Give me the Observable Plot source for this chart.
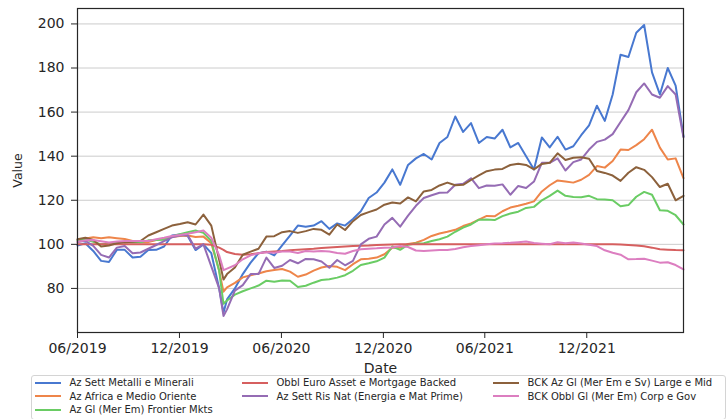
<!DOCTYPE html>
<html>
<head>
<meta charset="utf-8">
<script src="https://cdn.jsdelivr.net/npm/d3@7"></script>
<script src="https://cdn.jsdelivr.net/npm/@observablehq/plot@0.6"></script>
<style>
  html, body { margin: 0; padding: 0; background: #fff; }
  body { width: 726px; height: 419px; overflow: hidden; font-family: "DejaVu Sans", sans-serif; color: #262626; }
  #chart { height: 374px; }
  #legend { position: relative; box-sizing: border-box; width: 695px; height: 45px; margin-left: 31px; margin-top: 1px;
            border: 1px solid #d4d4d4; border-radius: 3px; display: grid;
            grid-template-columns: 207px 251px auto; grid-template-rows: repeat(3, 13.6px);
            padding: 0 0 0 3px; font-size: 10px; }
  .item { display: flex; align-items: center; white-space: nowrap; }
  .sw { width: 26px; height: 2px; margin-right: 8.5px; flex: none; }
</style>
</head>
<body>
<div id="chart"></div>
<div id="legend"></div>
<script>
// Series names (legend order) and colours
const seriesNames = [
  "Az Sett Metalli e Minerali",
  "Az Africa e Medio Oriente",
  "Az Gl (Mer Em) Frontier Mkts",
  "Obbl Euro Asset e Mortgage Backed",
  "Az Sett Ris Nat (Energia e Mat Prime)",
  "BCK Az Gl (Mer Em e Sv) Large e Mid",
  "BCK Obbl Gl (Mer Em) Corp e Gov"
];
const seriesColors = ["#4878d0", "#ee854a", "#6acc64", "#d65f5f", "#956cb4", "#8c613c", "#dc7ec0"];

// Sampling dates: regular grid plus one extra date at the Feb-2020 trough
const dates = d3.utcHour.range(new Date("2019-06-01T00:00Z"), new Date("2022-05-25T00:00Z"), 339);
dates.splice(19, 0, new Date("2020-02-18T00:00Z"));

// Values (one per date)
const metalli = [
  99.5, 100.5, 97, 92.5, 92, 97.5, 97.5, 94, 94.4, 97.4,
  97.5, 99, 104, 104.5, 103.8, 97.4, 100, 96, 80,
  69,
  75, 80, 86.5, 91.7, 96, 96.7, 95, 99.5, 104, 108.5, 108,
  108.5, 110.5, 107, 109.5, 108.5, 111.5, 115, 121, 123.5, 128,
  134, 127, 136, 139, 141, 138.5, 146, 148.7, 158, 151,
  155, 146, 148.7, 148, 152, 144, 146, 140, 134, 148.5,
  144, 148.8, 143, 144.5, 149.5, 154, 162.9, 156, 168, 186,
  185, 196, 199.5, 178, 168, 180, 172, 149
];
const africa = [
  102, 102.6, 103.2, 102.8, 103.2, 102.8, 102.4, 101.5, 100.9, 101,
  102, 102.7, 103.3, 103.8, 104, 103.3, 103.5, 100.5, 88,
  78.5,
  80.5, 82.5, 85, 86, 86.8, 87.8, 88.4, 88.8, 87.6, 85.3, 86.3,
  88.1, 89.5, 90.2, 89.8, 88.3, 91, 93.2, 93.5, 94, 95.5,
  98.5, 98.5, 100.2, 100.7, 102, 103.8, 104.9, 105.7, 106.6, 108.3,
  109.5, 111.2, 112.9, 112.7, 115, 116.7, 117.5, 118.4, 119.5, 124,
  126.8, 129, 128.5, 128, 129.3, 131.5, 135.5, 134.8, 137.8, 143,
  142.8, 145, 147.7, 152, 143.9, 138.5, 139, 130
];
const frontier = [
  101.7, 102.2, 101.2, 100, 100.3, 100.8, 100.9, 100.8, 100.9, 101.8,
  102, 102.1, 103.6, 104.6, 105.5, 106.3, 105.2, 101.5, 88,
  73,
  74.5, 77.2, 78.7, 80, 81.3, 83.5, 83, 83.6, 83.5, 80.6, 81.2,
  82.6, 83.8, 84.2, 84.9, 86, 88, 90.6, 91.4, 92.3, 94,
  99, 97.5, 99.8, 100.4, 100.5, 101.5, 102.3, 103.5, 105.7, 107.6,
  109, 111.2, 111.3, 111, 112.8, 114, 114.8, 116.5, 117, 120,
  122, 124.4, 122, 121.5, 121.4, 122, 120.5, 120.3, 120, 117.3,
  117.8, 121.6, 123.8, 122.5, 115.5, 115.2, 113.2, 109
];
const obblEuro = [
  100, 100, 100, 100, 100, 100, 100, 100, 100, 100,
  100, 100, 100, 100, 100, 100, 100, 99.8, 98.5,
  97.5,
  96.5, 95.6, 95.3, 95.5, 96, 96.5, 96.8, 97, 97.3, 97.6, 97.8,
  98, 98.3, 98.6, 98.8, 99, 99.2, 99.4, 99.5, 99.7, 99.8,
  99.9, 100, 100, 100, 100, 100, 100, 100, 100, 100,
  100, 100, 100, 100, 100, 100, 100, 100, 100, 100,
  100, 100, 100, 100, 100, 100, 100, 100, 100, 99.9,
  99.7, 99.5, 99.1, 98.5, 97.8, 97.6, 97.4, 97.3
];
const risNat = [
  101, 101.6, 99.3, 95.2, 94, 98.5, 99.2, 96, 96.3, 98,
  99.7, 101.5, 103.2, 104, 104.2, 98, 100, 90, 80,
  67.5,
  70.5, 79, 81.5, 86.5, 86.5, 94, 89.3, 90.3, 92.9, 91.4, 93.4,
  93.2, 92.2, 89.4, 92.9, 90.5, 92.5, 100, 102.5, 103.5, 109,
  112, 108, 113, 117.5, 121, 122.3, 123.4, 123.5, 127, 127.5,
  130, 125.5, 126.7, 126.6, 127.2, 122.5, 126.5, 125.6, 128.5, 137,
  137, 139, 133.5, 137.3, 138.5, 143, 146.5, 147.5, 150, 155.5,
  160.9, 169, 173, 168, 166.5, 171.8, 168, 148.5
];
const bckLarge = [
  102.3, 103, 102, 99, 99.5, 100.5, 101, 101.2, 101.5, 104,
  105.5, 107, 108.5, 109.2, 110, 109, 113.5, 108.5, 93,
  84,
  86.5, 89.5, 95.3, 96.7, 98, 103.5, 103.7, 105.5, 106, 105.2, 106,
  107, 106.6, 104.4, 109, 106.5, 110.5, 113.3, 114.6, 115.8, 118,
  119, 118.5, 121.3, 119.5, 124, 124.7, 126.7, 128, 126.8, 127,
  129.2, 131.3, 133.2, 133.9, 134.2, 136, 136.6, 136, 134, 136.5,
  137, 141.3, 138.3, 139.3, 139.5, 138.8, 133.3, 132.4, 131.2, 128.8,
  132.5, 135, 133.8, 130.5, 126, 127.5, 120, 122
];
const bckObbl = [
  101.2, 101.8, 102, 101.4, 100.8, 101.3, 101.5, 101.5, 101.5, 101.5,
  102.3, 103, 103.8, 104.2, 104.8, 105.5, 106.3, 103, 95,
  88.3,
  89, 90.5, 93.2, 95, 96, 96.4, 96.2, 96.7, 96.7, 96.1, 97,
  96.7, 97, 96.7, 96.1, 95.7, 97, 97.8, 98, 98.2, 98.5,
  98.6, 99.2, 98.8, 97.2, 97, 97.2, 97.4, 97.4, 97.9, 98.7,
  99.2, 99.6, 100, 100.4, 100.5, 100.7, 101, 101.3, 100.6, 100.3,
  100, 101, 100.5, 100.8, 100.4, 99.8, 99.2, 97.3, 96.2, 95.3,
  93.2, 93.3, 93.5, 92.6, 91.7, 91.9, 90.6, 88.6
];

// Axis ticks
const xTickDates = ["2019-06-01", "2019-12-01", "2020-06-01", "2020-12-01", "2021-06-01", "2021-12-01"];
const yTickValues = [80, 100, 120, 140, 160, 180, 200];

const seriesValues = [metalli, africa, frontier, obblEuro, risNat, bckLarge, bckObbl];
const rows = seriesNames.flatMap((name, k) =>
  dates.map((d, i) => ({date: d, value: seriesValues[k][i], series: name})));

const chart = Plot.plot({
  width: 726,
  height: 374,
  marginLeft: 77,
  marginRight: 43,
  marginTop: 8,
  marginBottom: 42,
  style: {fontFamily: "'DejaVu Sans', sans-serif", color: "#262626", background: "#fff"},
  x: {type: "utc", domain: [dates[0], dates[dates.length - 1]]},
  y: {domain: [60, 207]},
  color: {domain: seriesNames, range: seriesColors},
  marks: [
    Plot.gridY(yTickValues, {stroke: "#cccccc", strokeOpacity: 1, strokeWidth: 1}),
    Plot.lineY(rows, {x: "date", y: "value", z: "series", stroke: "series", strokeWidth: 2, strokeLinejoin: "round"}),
    Plot.axisX(xTickDates.map(s => new Date(s + "T00:00Z")), {
      tickFormat: d3.utcFormat("%m/%Y"), tickSize: 6, tickPadding: 5, fontSize: 14,
      label: null
    }),
    Plot.axisX({
      ticks: [], tickSize: 0, fontSize: 14,
      label: "Date", labelAnchor: "center", labelArrow: "none", labelOffset: 40
    }),
    Plot.axisY(yTickValues, {
      tickSize: 6, tickPadding: 7, fontSize: 14,
      label: null
    }),
    Plot.axisY({
      ticks: [], tickSize: 0, fontSize: 12.5,
      label: "Value", labelAnchor: "center", labelArrow: "none", labelOffset: 64
    }),
    Plot.frame({stroke: "#262626", strokeWidth: 1.2})
  ]
});
document.getElementById("chart").appendChild(chart);

// Legend (matplotlib column-major order, 3 columns)
const legend = document.getElementById("legend");
const colOf = [0, 0, 0, 1, 1, 2, 2];
const rowOf = [0, 1, 2, 0, 1, 0, 1];
seriesNames.forEach((name, k) => {
  const it = document.createElement("div");
  it.className = "item";
  it.style.gridColumn = String(colOf[k] + 1);
  it.style.gridRow = String(rowOf[k] + 1);
  const sw = document.createElement("span");
  sw.className = "sw";
  sw.style.background = seriesColors[k];
  const tx = document.createElement("span");
  tx.textContent = name;
  it.appendChild(sw);
  it.appendChild(tx);
  legend.appendChild(it);
});
</script>
</body>
</html>
